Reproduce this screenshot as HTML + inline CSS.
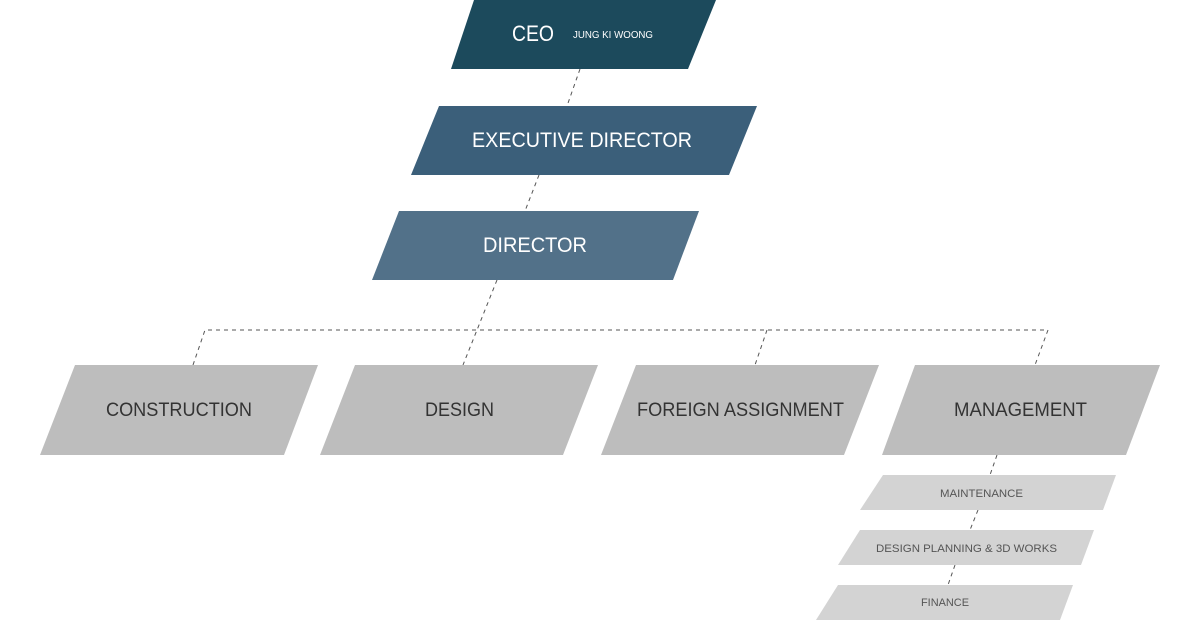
<!DOCTYPE html>
<html><head><style>
body{margin:0;background:#fff;}
svg{display:block;}
text{font-family:"Liberation Sans","DejaVu Sans",sans-serif;}
</style></head><body>
<svg width="1200" height="621" viewBox="0 0 1200 621" xmlns="http://www.w3.org/2000/svg">
<g stroke="#555" stroke-width="1" stroke-dasharray="4,4" fill="none">
<line x1="580" y1="69" x2="567" y2="106"/>
<line x1="539" y1="175" x2="525" y2="211"/>
<line x1="497" y1="280" x2="463" y2="365"/>
<polyline points="193,365 205,330 1048,330 1035,365"/>
<line x1="767" y1="330" x2="755" y2="365"/>
<line x1="997" y1="455" x2="990" y2="475"/>
<line x1="978" y1="510" x2="970" y2="530"/>
<line x1="955" y1="565" x2="948" y2="585"/>
</g>
<polygon points="474,0 716,0 688,69 451,69" fill="#1c4a5c"/>
<polygon points="439,106 757,106 729,175 411,175" fill="#3b5f7a"/>
<polygon points="399,211 699,211 673,280 372,280" fill="#527189"/>
<g fill="#bdbdbd">
<polygon points="75,365 318,365 284,455 40,455"/>
<polygon points="355,365 598,365 563,455 320,455"/>
<polygon points="636,365 879,365 844,455 601,455"/>
<polygon points="915,365 1160,365 1126,455 882,455"/>
</g>
<g fill="#d3d3d3">
<polygon points="883,475 1116,475 1103,510 860,510"/>
<polygon points="860,530 1094,530 1081,565 838,565"/>
<polygon points="838,585 1073,585 1060,620 816,620"/>
</g>
<g fill="#fff">
<text x="512" y="41" font-size="22" textLength="42" lengthAdjust="spacingAndGlyphs">CEO</text>
<text x="573" y="38" font-size="10" textLength="80" lengthAdjust="spacingAndGlyphs">JUNG KI WOONG</text>
<text x="472" y="147" font-size="21" textLength="220" lengthAdjust="spacingAndGlyphs">EXECUTIVE DIRECTOR</text>
<text x="483" y="252" font-size="21" textLength="104" lengthAdjust="spacingAndGlyphs">DIRECTOR</text>
</g>
<g fill="#333" font-size="19">
<text x="106" y="416" textLength="146" lengthAdjust="spacingAndGlyphs">CONSTRUCTION</text>
<text x="425" y="416" textLength="69" lengthAdjust="spacingAndGlyphs">DESIGN</text>
<text x="637" y="416" textLength="207" lengthAdjust="spacingAndGlyphs">FOREIGN ASSIGNMENT</text>
<text x="954" y="416" textLength="133" lengthAdjust="spacingAndGlyphs">MANAGEMENT</text>
</g>
<g fill="#555" font-size="11">
<text x="940" y="497" textLength="83" lengthAdjust="spacingAndGlyphs">MAINTENANCE</text>
<text x="876" y="552" textLength="181" lengthAdjust="spacingAndGlyphs">DESIGN PLANNING &amp; 3D WORKS</text>
<text x="921" y="606" textLength="48" lengthAdjust="spacingAndGlyphs">FINANCE</text>
</g>
</svg>
</body></html>
